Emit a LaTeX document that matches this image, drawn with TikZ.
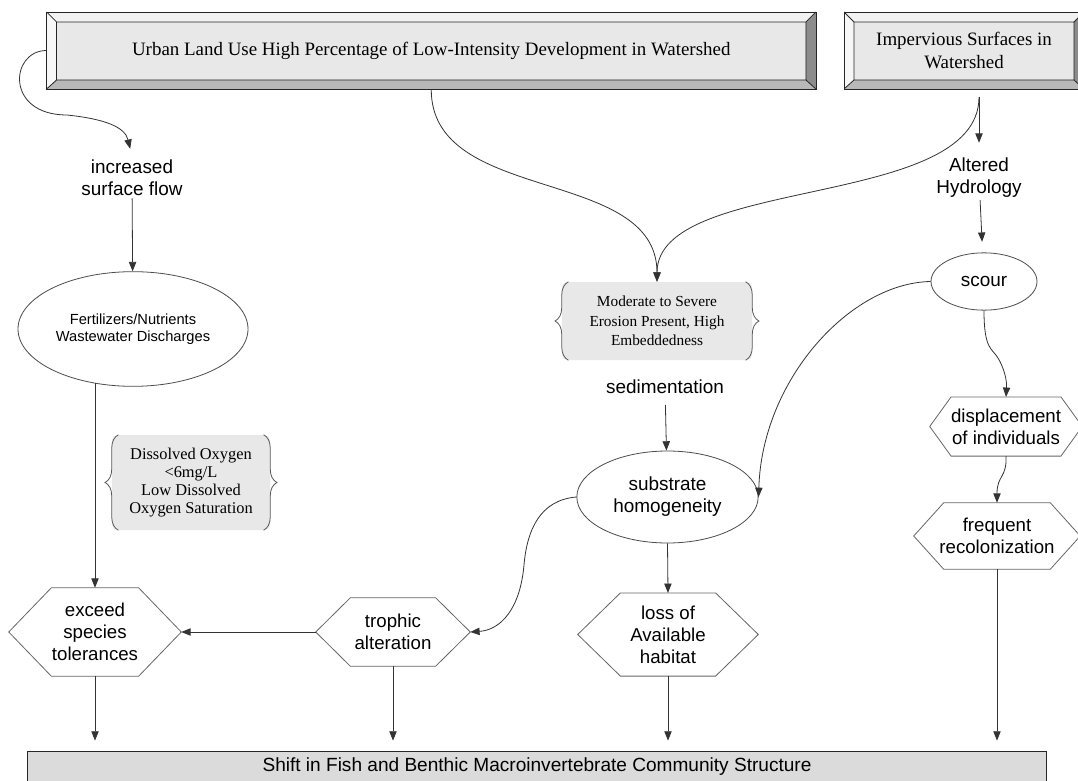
\documentclass[tikz,border=0pt]{standalone}
\usepackage{fontspec}
\setmainfont{Liberation Serif}
\setsansfont{Liberation Sans}
\usetikzlibrary{arrows.meta, decorations.pathreplacing, shapes.geometric}

% hexagon outline round a node: name, slant
\newcommand\hexframe[2]{%
  \draw[black!60, line width=0.6pt] (#1.west) -- ([xshift=#2]#1.north west) -- ([xshift=-#2]#1.north east)
    -- (#1.east) -- ([xshift=-#2]#1.south east) -- ([xshift=#2]#1.south west) -- cycle;}

% bevelled frame, used as a path picture
\newcommand\bevelpic{%
  \path (path picture bounding box.north west) coordinate (bnw)
        (path picture bounding box.north east) coordinate (bne)
        (path picture bounding box.south west) coordinate (bsw)
        (path picture bounding box.south east) coordinate (bse);
  \path ([shift={(7.5pt,-7.5pt)}]bnw) coordinate (inw)
        ([shift={(-7.5pt,-7.5pt)}]bne) coordinate (ine)
        ([shift={(7.5pt,6.75pt)}]bsw) coordinate (isw)
        ([shift={(-7.5pt,6.75pt)}]bse) coordinate (ise);
  \fill[black!5] (bnw) -- (bne) -- (ine) -- (inw) -- cycle;
  \fill[black!3] (bnw) -- (inw) -- (isw) -- (bsw) -- cycle;
  \fill[black!45] (bne) -- (bse) -- (ise) -- (ine) -- cycle;
  \fill[black!28] (bsw) -- (bse) -- (ise) -- (isw) -- cycle;
  \draw[black!85, line width=0.6pt] (inw) rectangle (ise) (bnw) -- (inw) (bne) -- (ine) (bsw) -- (isw) (bse) -- (ise);}

\begin{document}
\begin{tikzpicture}[x=0.75pt, y=-0.75pt]
    \tikzstyle{source} = [rectangle, draw=black!85, line width=0.6pt, fill=black!9, inner sep=0pt, align=center, font=\rmfamily\fontsize{14.2}{17}\selectfont, path picture={\bevelpic}]
    \tikzstyle{effect} = [ellipse, draw=black!70, line width=0.6pt, inner sep=0pt, align=center, font=\sffamily\fontsize{14.2}{16.5}\selectfont]
    \tikzstyle{impact} = [rectangle, inner sep=0pt, align=center, font=\sffamily\fontsize{14}{16.5}\selectfont]
    \tikzstyle{condition} = [rectangle, rounded corners=4pt, fill=black!9, inner sep=0pt, align=center, font=\rmfamily\fontsize{11.5}{14.5}\selectfont]
    \tikzstyle{term} = [inner sep=2pt, align=center, font=\sffamily\fontsize{14.2}{16.5}\selectfont]
    \tikzstyle{outcome} = [rectangle, draw=black!85, line width=0.6pt, fill=black!14, inner sep=0pt, font=\sffamily\fontsize{14.3}{16}\selectfont]
    \tikzstyle{conn} = [-{Triangle[length=7pt, width=5.5pt]}, draw=black!80, line width=0.6pt]
    \tikzstyle{curly} = [decorate, decoration={brace, amplitude=10pt, raise=-5pt}, draw=black!65, line width=0.6pt]

    \clip (0,0) rectangle (1078,781);
    \fill[white] (0,0) rectangle (1078,781);

    % Watershed sources
    \node [source, minimum width=577pt, minimum height=57.75pt] (urban) at (431.25,50.5) {Urban Land Use High Percentage of Low-Intensity Development in Watershed};
    \node [source, minimum width=180pt, minimum height=57.75pt] (impervious) at (964,50.5) {Impervious Surfaces in\\Watershed};
    \coordinate (impout) at (979,97);

    % Pathways
    \node [term] (surface) at (132,177.5) {increased\\surface flow};
    \node [term] (hydrology) at (979,177.5) {Altered\\Hydrology};
    \node [term] (sediment) at (665,387) {sedimentation};

    % Stressors
    \node [effect, minimum width=172.5pt, minimum height=86pt, font=\sffamily\fontsize{11}{12.5}\selectfont] (fert) at (133,329) {Fertilizers/Nutrients\\Wastewater Discharges};
    \node [effect, minimum width=79.5pt, minimum height=43pt] (scour) at (984,281.5) {scour};
    \node [effect, minimum width=136pt, minimum height=69pt] (substrate) at (667.5,497) {substrate\\homogeneity};

    % Conditions
    \node [condition, minimum width=118.5pt, minimum height=71.25pt, font=\rmfamily\fontsize{12.3}{13.5}\selectfont] (oxygen) at (191,482.5) {Dissolved Oxygen\\<6mg/L\\Low Dissolved\\Oxygen Saturation};
    \node [condition, minimum width=142.5pt, minimum height=58.5pt] (erosion) at (657,321) {Moderate to Severe\\Erosion Present, High\\Embeddedness};
    \draw [curly] (oxygen.south west) -- (oxygen.north west);
    \draw [curly] (oxygen.north east) -- (oxygen.south east);
    \draw [curly] (erosion.south west) -- (erosion.north west);
    \draw [curly] (erosion.north east) -- (erosion.south east);

    % Impacts
    \node [impact, minimum width=129pt, minimum height=66pt] (exceed) at (95,632) {exceed\\species\\tolerances};
    \node [impact, minimum width=115.5pt, minimum height=51pt] (trophic) at (393,632) {trophic\\alteration};
    \node [impact, minimum width=135pt, minimum height=62pt] (loss) at (668,634.5) {loss of\\Available\\habitat};
    \node [impact, minimum width=114pt, minimum height=44pt] (displacement) at (1006,426.5) {displacement\\of individuals};
    \node [impact, minimum width=124.5pt, minimum height=49.5pt] (frequent) at (997,536) {frequent\\recolonization};
    \hexframe{exceed}{32pt}
    \hexframe{trophic}{26pt}
    \hexframe{loss}{32pt}
    \hexframe{displacement}{16pt}
    \hexframe{frequent}{22.5pt}

    % Community response
    \node [outcome, minimum width=764pt, minimum height=24pt] (shift) at (537,767) {Shift in Fish and Benthic Macroinvertebrate Community Structure};

    % Connections
    \draw [conn, shorten >=6pt] (urban.west) .. controls (10,51) and (5,115) .. (67,115) .. controls (105,119) and (125,127) .. (surface.north);
    \draw [conn] (surface) -- (fert);
    \draw [conn] (fert.-125 -| exceed.north) -- (exceed.north);
    \draw [conn] (trophic.west) -- (exceed.east);

    \draw [conn] (urban.south) .. controls (431,205) and (657,166) .. (erosion.north);
    \draw [conn] (impout) .. controls (979,210) and (657,175) .. (erosion.north);
    \draw [conn, shorten >=9pt] (impout) -- (hydrology.north);
    \draw [conn, shorten >=8pt] (hydrology) -- (scour);
    \draw [conn, shorten <=6pt] (sediment) -- (substrate);

    \draw [conn] (scour.west) .. controls (850,283) and (762,380) .. (substrate.east);
    \draw [conn] (scour.south) .. controls (984,350) and (992,348) .. (998,358) .. controls (1004,368) and (1007,380) .. (displacement.north);
    \draw [conn] (displacement.south) .. controls (1007,478) and (997,475) .. (frequent.north);
    \draw [conn] (substrate.south) -- (loss.north);
    \draw [conn] (substrate.west) .. controls (540,500) and (527,530) .. (524,565) .. controls (520,610) and (500,630) .. (trophic.east);

    % Into the community response
    \draw [conn, shorten >=7.5pt] (exceed.south) -- (exceed.south |- shift.north);
    \draw [conn, shorten >=7.5pt] (trophic.south) -- (trophic.south |- shift.north);
    \draw [conn, shorten >=7.5pt] (loss.south) -- (loss.south |- shift.north);
    \draw [conn, shorten >=7.5pt] (frequent.south) -- (frequent.south |- shift.north);
\end{tikzpicture}
\end{document}
